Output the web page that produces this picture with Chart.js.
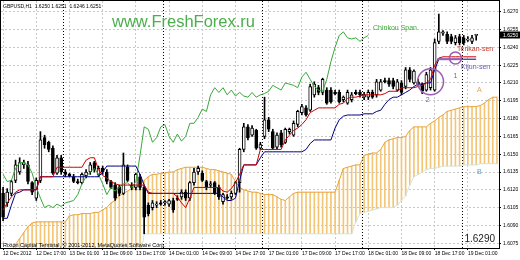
<!DOCTYPE html>
<html><head><meta charset="utf-8">
<script src="https://cdn.jsdelivr.net/npm/chart.js@4.4.0/dist/chart.umd.min.js"></script>
<style>html,body{margin:0;padding:0;background:#fff;}#wrap{width:520px;height:260px;position:relative;}</style>
</head><body><div id="wrap"><canvas id="c" width="520" height="260"></canvas></div>
<script>
// ---- DATA ----
const xTickLabels = ["12 Dec 2012","12 Dec 17:00","13 Dec 01:00","13 Dec 09:00","13 Dec 17:00","14 Dec 01:00","14 Dec 09:00","14 Dec 17:00","17 Dec 01:00","17 Dec 09:00","17 Dec 17:00","18 Dec 01:00","18 Dec 09:00","18 Dec 17:00","19 Dec 01:00"];
const xTickBars = [0,8,16,24,32,40,48,56,64,72,80,88,96,104,112];
const midnightBars = [15,39,63,87,111];
const yTicks = [1.6075,1.6090,1.6105,1.6120,1.6135,1.6150,1.6165,1.6180,1.6195,1.6210,1.6225,1.6240,1.6255,1.6270];

const open = [1.6117,1.6109,1.6117,1.6128,1.6135,1.6141,1.6141,1.6126,1.6113,1.6128,
 1.6164,1.6160,1.6155,1.6134,1.6147,1.6135,1.6133,1.6131,1.6127,1.6126,
 1.6132,1.6135,1.6143,1.6133,1.6138,1.6135,1.6127,1.6124,1.6122,1.6117,
 1.6139,1.6124,1.6122,1.6131,1.6122,1.6107,1.6105,1.6107,1.6109,1.6109,
 1.6108,1.6111,1.6113,1.6114,1.6118,1.6113,1.6126,1.6135,1.6134,1.6127,
 1.6124,1.6126,1.6122,1.6110,1.6114,1.6114,1.6117,1.6126,1.6154,1.6173,
 1.6166,1.6170,1.6155,1.6165,1.6179,1.6169,1.6156,1.6168,1.6160,1.6169,
 1.6166,1.6175,1.6185,1.6189,1.6187,1.6200,1.6206,1.6202,1.6204,1.6204,
 1.6202,1.6202,1.6196,1.6193,1.6196,1.6202,1.6202,1.6198,1.6198,1.6202,
 1.6200,1.6204,1.6212,1.6212,1.6212,1.6204,1.6210,1.6207,1.6221,1.6210,
 1.6211,1.6209,1.6204,1.6206,1.6204,1.6245,1.6252,1.6251,1.6249,1.6244,
 1.6249,1.6248,1.6246,1.6245,1.6250];
const high = [1.6122,1.6121,1.6128,1.6145,1.6147,1.6145,1.6144,1.6127,1.6130,1.6169,
 1.6166,1.6161,1.6157,1.6149,1.6149,1.6137,1.6134,1.6133,1.6129,1.6134,
 1.6137,1.6143,1.6144,1.6140,1.6140,1.6137,1.6128,1.6126,1.6124,1.6151,
 1.6141,1.6126,1.6134,1.6133,1.6124,1.6109,1.6111,1.6110,1.6111,1.6111,
 1.6112,1.6113,1.6115,1.6120,1.6120,1.6127,1.6138,1.6140,1.6136,1.6128,
 1.6127,1.6127,1.6124,1.6117,1.6116,1.6119,1.6127,1.6155,1.6176,1.6175,
 1.6174,1.6171,1.6160,1.6198,1.6181,1.6171,1.6168,1.6170,1.6172,1.6172,
 1.6178,1.6187,1.6192,1.6191,1.6209,1.6211,1.6208,1.6214,1.6206,1.6206,
 1.6204,1.6204,1.6199,1.6204,1.6202,1.6204,1.6204,1.6202,1.6204,1.6204,
 1.6213,1.6213,1.6214,1.6214,1.6214,1.6213,1.6212,1.6223,1.6223,1.6221,
 1.6213,1.6210,1.6219,1.6223,1.6247,1.6268,1.6254,1.6253,1.6251,1.6250,
 1.6251,1.6250,1.6249,1.6250,1.6251];
const low = [1.6094,1.6106,1.6115,1.6126,1.6133,1.6138,1.6125,1.6116,1.6111,1.6126,
 1.6155,1.6152,1.6133,1.6133,1.6133,1.6131,1.6131,1.6126,1.6125,1.6125,
 1.6130,1.6133,1.6135,1.6131,1.6133,1.6125,1.6121,1.6111,1.6115,1.6116,
 1.6127,1.6120,1.6120,1.6120,1.6083,1.6098,1.6103,1.6105,1.6107,1.6107,
 1.6106,1.6101,1.6111,1.6112,1.6111,1.6111,1.6124,1.6133,1.6127,1.6120,
 1.6122,1.6116,1.6112,1.6108,1.6112,1.6112,1.6116,1.6118,1.6152,1.6162,
 1.6165,1.6154,1.6154,1.6163,1.6169,1.6154,1.6154,1.6156,1.6159,1.6167,
 1.6165,1.6173,1.6183,1.6182,1.6186,1.6198,1.6200,1.6200,1.6192,1.6193,
 1.6200,1.6193,1.6194,1.6192,1.6194,1.6200,1.6198,1.6196,1.6196,1.6197,
 1.6198,1.6203,1.6210,1.6207,1.6205,1.6203,1.6200,1.6205,1.6211,1.6209,
 1.6208,1.6201,1.6203,1.6204,1.6203,1.6243,1.6250,1.6243,1.6243,1.6242,
 1.6242,1.6242,1.6245,1.6243,1.6246];
const close = [1.6097,1.6118,1.6127,1.6141,1.6143,1.6143,1.6127,1.6118,1.6128,1.6162,
 1.6158,1.6154,1.6134,1.6147,1.6135,1.6133,1.6132,1.6127,1.6126,1.6133,
 1.6135,1.6141,1.6137,1.6138,1.6135,1.6127,1.6122,1.6113,1.6117,1.6141,
 1.6128,1.6122,1.6133,1.6122,1.6097,1.6100,1.6109,1.6108,1.6108,1.6110,
 1.6111,1.6103,1.6112,1.6118,1.6113,1.6126,1.6135,1.6138,1.6128,1.6122,
 1.6125,1.6117,1.6114,1.6116,1.6113,1.6117,1.6126,1.6154,1.6173,1.6164,
 1.6172,1.6155,1.6158,1.6179,1.6171,1.6155,1.6166,1.6158,1.6171,1.6171,
 1.6176,1.6186,1.6190,1.6183,1.6207,1.6209,1.6202,1.6213,1.6193,1.6194,
 1.6201,1.6194,1.6198,1.6202,1.6200,1.6201,1.6200,1.6200,1.6202,1.6198,
 1.6211,1.6211,1.6211,1.6209,1.6207,1.6211,1.6202,1.6221,1.6213,1.6220,
 1.6209,1.6203,1.6217,1.6221,1.6244,1.6253,1.6253,1.6245,1.6245,1.6248,
 1.6244,1.6244,1.6247,1.6248,1.6251];
const tenkan = [1.6103,1.6109,1.6114,1.6118,1.6120,1.6120,1.6120,1.6120,1.6120,1.6131,
 1.6131,1.6131,1.6131,1.6139,1.6139,1.6139,1.6139,1.6139,1.6139,1.6139,
 1.6145,1.6147,1.6147,1.6137,1.6132,1.6130,1.6127,1.6125,1.6124,1.6124,
 1.6124,1.6124,1.6124,1.6124,1.6124,1.6118,1.6117,1.6117,1.6117,1.6117,
 1.6117,1.6117,1.6114,1.6109,1.6105,1.6113,1.6122,1.6122,1.6122,1.6122,
 1.6122,1.6122,1.6122,1.6119,1.6118,1.6121,1.6126,1.6133,1.6141,1.6141,
 1.6141,1.6141,1.6154,1.6154,1.6154,1.6154,1.6154,1.6154,1.6162,1.6166,
 1.6170,1.6172,1.6175,1.6179,1.6185,1.6187,1.6189,1.6189,1.6189,1.6189,
 1.6189,1.6192,1.6193,1.6197,1.6198,1.6198,1.6199,1.6200,1.6200,1.6200,
 1.6200,1.6200,1.6201,1.6203,1.6203,1.6203,1.6206,1.6206,1.6206,1.6206,
 1.6207,1.6208,1.6210,1.6213,1.6225,1.6231,1.6232,1.6232,1.6232,1.6232,
 1.6232,1.6232,1.6232,1.6232,1.6232];
const kijun = [1.6096,1.6096,1.6107,1.6117,1.6118,1.6120,1.6120,1.6120,1.6120,1.6131,
 1.6131,1.6131,1.6131,1.6131,1.6131,1.6131,1.6131,1.6131,1.6131,1.6131,
 1.6131,1.6131,1.6131,1.6131,1.6135,1.6140,1.6140,1.6140,1.6140,1.6140,
 1.6140,1.6140,1.6140,1.6133,1.6124,1.6117,1.6117,1.6117,1.6117,1.6117,
 1.6117,1.6117,1.6117,1.6117,1.6117,1.6117,1.6117,1.6117,1.6117,1.6117,
 1.6117,1.6117,1.6117,1.6114,1.6111,1.6111,1.6113,1.6128,1.6141,1.6141,
 1.6141,1.6141,1.6147,1.6152,1.6152,1.6152,1.6152,1.6152,1.6152,1.6152,
 1.6152,1.6152,1.6152,1.6154,1.6159,1.6162,1.6162,1.6162,1.6162,1.6162,
 1.6172,1.6179,1.6182,1.6183,1.6183,1.6183,1.6183,1.6184,1.6184,1.6184,
 1.6186,1.6187,1.6192,1.6196,1.6198,1.6198,1.6200,1.6202,1.6204,1.6207,
 1.6209,1.6209,1.6210,1.6210,1.6221,1.6230,1.6230,1.6230,1.6230,1.6230,
 1.6230,1.6230,1.6230,1.6230,1.6230];
const chinkou = [1.6133,1.6127,1.6128,1.6138,1.6143,1.6143,1.6141,1.6134,1.6122,1.6113,
 1.6105,1.6107,1.6105,1.6108,1.6106,1.6109,1.6110,1.6111,1.6116,1.6125,
 1.6131,1.6135,1.6138,1.6133,1.6125,1.6116,1.6122,1.6119,1.6122,1.6125,
 1.6126,1.6122,1.6127,1.6149,1.6173,1.6171,1.6160,1.6164,1.6173,1.6175,
 1.6165,1.6160,1.6167,1.6161,1.6165,1.6176,1.6176,1.6181,1.6188,1.6186,
 1.6200,1.6206,1.6202,1.6206,1.6200,1.6204,1.6199,1.6202,1.6199,1.6198,
 1.6202,1.6198,1.6200,1.6201,1.6203,1.6208,1.6206,1.6204,1.6210,1.6209,
 1.6208,1.6206,1.6215,1.6219,1.6213,1.6207,1.6204,1.6203,1.6213,1.6228,
 1.6240,1.6250,1.6253,1.6248,1.6247,1.6248,1.6245,1.6248,1.6250];
const spanA = [1.6059,1.6065,1.6069,1.6074,1.6079,1.6084,1.6089,1.6092,1.6093,1.6093,
 1.6093,1.6093,1.6093,1.6093,1.6093,1.6093,1.6098,1.6099,1.6099,1.6100,
 1.6100,1.6100,1.6101,1.6101,1.6103,1.6105,1.6109,1.6111,1.6115,1.6117,
 1.6119,1.6121,1.6122,1.6124,1.6128,1.6131,1.6133,1.6133,1.6134,1.6134,
 1.6135,1.6135,1.6137,1.6138,1.6139,1.6139,1.6139,1.6139,1.6139,1.6138,
 1.6137,1.6137,1.6136,1.6135,1.6134,1.6133,1.6127,1.6122,1.6120,1.6119,
 1.6118,1.6118,1.6117,1.6116,1.6116,1.6116,1.6114,1.6112,1.6111,1.6114,
 1.6117,1.6118,1.6118,1.6118,1.6118,1.6118,1.6118,1.6118,1.6118,1.6118,
 1.6118,1.6128,1.6138,1.6139,1.6140,1.6141,1.6141,1.6149,1.6150,1.6151,
 1.6151,1.6154,1.6160,1.6162,1.6163,1.6164,1.6164,1.6165,1.6170,1.6173,
 1.6173,1.6173,1.6173,1.6176,1.6178,1.6181,1.6183,1.6186,1.6187,1.6188,
 1.6189,1.6190,1.6190,1.6190,1.6190,1.6191,1.6193,1.6196,1.6198,1.6198];
const spanB = [1.6060,1.6060,1.6060,1.6060,1.6060,1.6060,1.6060,1.6060,1.6060,1.6060,
 1.6060,1.6060,1.6060,1.6060,1.6060,1.6060,1.6060,1.6060,1.6060,1.6060,
 1.6060,1.6060,1.6060,1.6060,1.6060,1.6060,1.6060,1.6060,1.6060,1.6060,
 1.6060,1.6060,1.6060,1.6060,1.6083,1.6083,1.6083,1.6083,1.6083,1.6083,
 1.6083,1.6083,1.6083,1.6083,1.6083,1.6083,1.6083,1.6083,1.6083,1.6083,
 1.6083,1.6083,1.6083,1.6083,1.6083,1.6083,1.6083,1.6083,1.6083,1.6083,
 1.6083,1.6083,1.6083,1.6083,1.6083,1.6083,1.6083,1.6083,1.6083,1.6083,
 1.6083,1.6083,1.6083,1.6083,1.6083,1.6083,1.6083,1.6083,1.6083,1.6083,
 1.6083,1.6083,1.6083,1.6083,1.6083,1.6093,1.6100,1.6101,1.6102,1.6103,
 1.6104,1.6105,1.6105,1.6105,1.6105,1.6107,1.6111,1.6115,1.6124,1.6131,
 1.6133,1.6135,1.6137,1.6138,1.6138,1.6139,1.6140,1.6140,1.6140,1.6140,
 1.6140,1.6141,1.6141,1.6141,1.6141,1.6142,1.6142,1.6142,1.6142,1.6142];
const lastPrice = 1.6250;

// ---- CHART ----
const categories = spanA.map((_, i) => i);
Chart.defaults.font.family = "'Liberation Sans', Arial, sans-serif";
const ln = (label, data, color, order) => ({type:'line', label, data, borderColor:color, borderWidth:1, pointRadius:0, tension:0, fill:false, order});

const decor = {
  id:'decor',
  beforeDraw(c){ const g=c.ctx; g.save(); g.fillStyle='#fff'; g.fillRect(0,0,c.width,c.height); g.restore(); },
  beforeDatasetsDraw(c){
    const g=c.ctx, a=c.chartArea, xs=c.scales.x;
    g.save(); g.strokeStyle='#000'; g.lineWidth=1; g.setLineDash([1,2]);
    midnightBars.forEach(m=>{
      const px = Math.round((xs.getPixelForValue(m-1)+xs.getPixelForValue(m))/2)+0.5;
      g.beginPath(); g.moveTo(px,a.top); g.lineTo(px,a.bottom); g.stroke();
    });
    g.restore();
  },
  afterDatasetsDraw(c){
    const g=c.ctx, xs=c.scales.x, ys=c.scales.y;
    g.save();
    // annotation marks
    g.strokeStyle='#9a5fb0'; g.lineWidth=2;
    g.beginPath(); g.moveTo(xs.getPixelForValue(104.6), ys.getPixelForValue(1.6230)); g.lineTo(xs.getPixelForValue(110.5), ys.getPixelForValue(1.6230)); g.stroke();
    g.lineWidth=1.5;
    g.beginPath(); g.arc(xs.getPixelForValue(109), ys.getPixelForValue(1.6231), 6, 0, Math.PI*2); g.stroke();
    g.beginPath(); g.arc(xs.getPixelForValue(103), ys.getPixelForValue(1.6211), 13, 0, Math.PI*2); g.stroke();
    g.fillStyle='#8a5aa8'; g.font="7px 'Liberation Sans'"; g.textAlign='center'; g.textBaseline='middle';
    g.fillText('1', xs.getPixelForValue(109), ys.getPixelForValue(1.6216));
    g.fillText('2', xs.getPixelForValue(102.3), ys.getPixelForValue(1.6196));
    // labels
    g.textAlign='left';
    g.fillStyle='#3aa83a'; g.fillText('Chinkou Span', 373, 28);
    g.fillStyle='#c0392b'; g.fillText('Tenkan-sen', 457, 49);
    g.fillStyle='#6a5aa8'; g.fillText('Kijun-sen', 461, 67);
    g.fillStyle='#e0a060'; g.fillText('A', 477, 90);
    g.fillStyle='#4aa8c8'; g.fillText('B', 477, 172);
    g.restore();
  },
  afterDraw(c){
    const g=c.ctx, a=c.chartArea, ys=c.scales.y;
    g.save();
    g.strokeStyle='#000'; g.lineWidth=1;
    g.strokeRect(Math.round(a.left)-0.5, Math.round(a.top)-0.5, Math.round(a.right-a.left)+1, Math.round(a.bottom-a.top)+1);
    g.fillStyle='#000'; g.textBaseline='middle'; g.textAlign='left';
    g.font="5px 'Liberation Sans'";
    g.fillText('GBPUSD,H1  1.6250 1.6251  1.6246 1.6251', 3, 7);
    g.font="5.5px 'Liberation Sans'";
    g.fillText('Rixton Capital Terminal, \u00A9 2001-2012, MetaQuotes Software Corp.', 3, 245);
    g.fillStyle='#4cae4c'; g.font="16.5px 'Liberation Sans'"; g.textBaseline='alphabetic';
    g.fillText('www.FreshForex.ru', 112, 27);
    g.fillStyle='#222'; g.font="10px 'Liberation Sans'"; g.textAlign='right';
    g.fillText('1.6290', 495, 242);
    // current price box
    const py = ys.getPixelForValue(lastPrice);
    g.fillStyle='#000'; g.fillRect(500, Math.round(py)-3.5, 20, 7);
    g.fillStyle='#fff'; g.font="5px 'Liberation Sans'"; g.textAlign='left'; g.textBaseline='middle';
    g.fillText(lastPrice.toFixed(4), 503, py);
    g.restore();
  }
};

new Chart(document.getElementById('c'), {
  type:'bar',
  data:{
    labels: categories,
    datasets:[
      {type:'bar', label:'cloud', data: spanA.map((v,i)=>[spanB[i], v]), backgroundColor:'#f3c677', barThickness:1, grouped:false, order:10},
      ln('Senkou Span A', spanA, '#e8a33d', 9),
      ln('Senkou Span B', spanB, '#cfe6dc', 9),
      {type:'bar', label:'wick', data: high.map((h,i)=>[low[i], h]), backgroundColor:'#000', barThickness:1, grouped:false, order:6},
      {type:'bar', label:'body', data: open.map((o,i)=>[o, close[i]]), backgroundColor: open.map((o,i)=> close[i] > o ? '#fff' : '#000'), borderColor:'#000', borderWidth:1, borderSkipped:false, barThickness:3, minBarLength:1, grouped:false, order:5},
      ln('Chinkou Span', chinkou, '#3aa83a', 3),
      ln('Kijun-sen', kijun, '#000080', 2),
      ln('Tenkan-sen', tenkan, '#cc0000', 1)
    ]
  },
  options:{
    responsive:false, animation:false, devicePixelRatio:1,
    layout:{padding:{left:1, top:1, right:0, bottom:0}},
    plugins:{legend:{display:false}, tooltip:{enabled:false}},
    scales:{
      x:{
        type:'category', offset:true,
        grid:{offset:false, color: ctx => xTickBars.includes(ctx.index) ? '#c8c8c8' : 'rgba(0,0,0,0)', tickColor: ctx => xTickBars.includes(ctx.index) ? '#000' : 'rgba(0,0,0,0)', tickLength:2, drawTicks:true},
        border:{display:true, color:'#000', dash:[2,2]},
        ticks:{autoSkip:false, maxRotation:0, minRotation:0, align:'start', padding:1, color:'#000', font:{size:5},
          callback:(v,i)=>{ const k = xTickBars.indexOf(i); return k >= 0 ? xTickLabels[k] : ''; }},
        afterFit:a=>{ a.height = 12; a.paddingLeft = 0; a.paddingRight = 0; }
      },
      y:{
        position:'right', min:1.6071, max:1.6279,
        afterBuildTicks:a=>{ a.ticks = yTicks.map(v=>({value:v})); },
        grid:{color:'#c8c8c8', tickColor:'#000', tickLength:2},
        border:{display:true, color:'#000', dash:[2,2]},
        ticks:{padding:2, color:'#000', font:{size:5}, callback:v=>Number(v).toFixed(4)},
        afterFit:a=>{ a.width = 21; a.paddingTop = 0; a.paddingBottom = 0; }
      }
    }
  },
  plugins:[decor]
});
</script>
</body></html>
